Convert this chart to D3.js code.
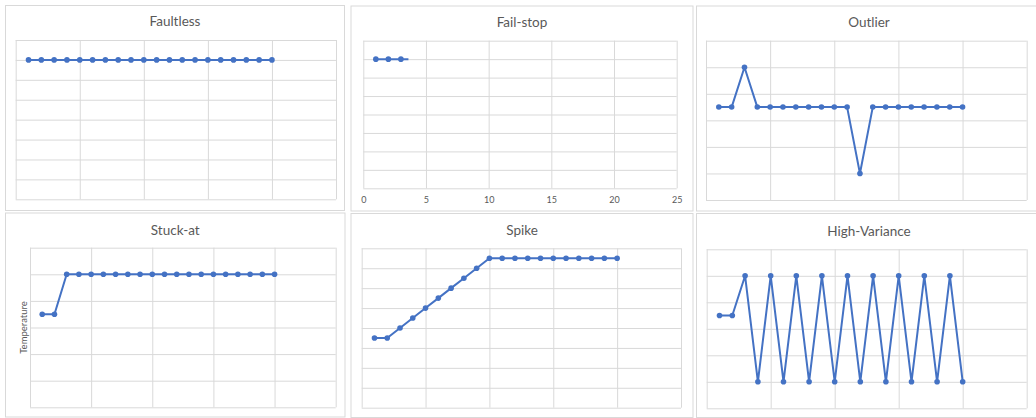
<!DOCTYPE html>
<html>
<head>
<meta charset="utf-8">
<script src="https://cdn.jsdelivr.net/npm/d3@7"></script>
<style>
  html, body { margin: 0; padding: 0; background: #ffffff; }
  svg { display: block; }
  text { font-family: Lato, "Open Sans", "Liberation Sans", sans-serif; fill: #595959; }
</style>
</head>
<body>
<svg id="chart" width="1036" height="418"></svg>
<script>
// Sample index (x) shared by the sensor traces
const sampleIndex = [1, 2, 3, 4, 5, 6, 7, 8, 9, 10, 11, 12, 13, 14, 15, 16, 17, 18, 19, 20];

// Temperature readings per fault type
const faultless = [35, 35, 35, 35, 35, 35, 35, 35, 35, 35, 35, 35, 35, 35, 35, 35, 35, 35, 35, 35];
const failStopIndex = [1, 2, 3, 3.6];
const failStop = [35, 35, 35, 35];
const failStopMarkers = 3;
const outlier = [17.5, 17.5, 25, 17.5, 17.5, 17.5, 17.5, 17.5, 17.5, 17.5, 17.5, 5, 17.5, 17.5, 17.5, 17.5, 17.5, 17.5, 17.5, 17.5];
const stuckAt = [17.5, 17.5, 25, 25, 25, 25, 25, 25, 25, 25, 25, 25, 25, 25, 25, 25, 25, 25, 25, 25];
const spike = [17.5, 17.5, 20, 22.5, 25, 27.5, 30, 32.5, 35, 37.5, 37.5, 37.5, 37.5, 37.5, 37.5, 37.5, 37.5, 37.5, 37.5, 37.5];
const highVariance = [17.5, 17.5, 25, 5, 25, 5, 25, 5, 25, 5, 25, 5, 25, 5, 25, 5, 25, 5, 25, 5];

// Axis ticks
const xTicks = [0, 5, 10, 15, 20, 25];
const yTicksTall = [0, 5, 10, 15, 20, 25, 30, 35, 40];
const yTicksShort = [0, 5, 10, 15, 20, 25, 30];

const titles = ["Faultless", "Fail-stop", "Outlier", "Stuck-at", "Spike", "High-Variance"];
const yAxisTitle = "Temperature";

const LINE = "#4472C4";
const GRID = "#d9d9d9";
const BORDER = "#d9d9d9";

const svg = d3.select("#chart");

// Panel frames and plot areas
const panels = [
  { title: titles[0], frame: [5, 5, 339, 205], plot: [15.7, 40, 336, 199.3], xs: sampleIndex, ys: faultless, yTicks: yTicksTall, titleY: 21 },
  { title: titles[1], frame: [350.5, 5.5, 342, 205], plot: [363.3, 40.7, 676.7, 188.3], xs: failStopIndex, ys: failStop, yTicks: yTicksTall, titleY: 22, markers: failStopMarkers, xLabels: true },
  { title: titles[2], frame: [696, 5.5, 345, 205], plot: [706, 40.7, 1026.7, 200], xs: sampleIndex, ys: outlier, yTicks: yTicksShort, titleY: 22 },
  { title: titles[3], frame: [5, 212.5, 339.5, 204], plot: [30, 247.7, 335.7, 407.3], xs: sampleIndex, ys: stuckAt, yTicks: yTicksShort, titleY: 229.5, yTitle: yAxisTitle },
  { title: titles[4], frame: [350.5, 213, 342, 204], plot: [361.7, 248.3, 681, 407.7], xs: sampleIndex, ys: spike, yTicks: yTicksTall, titleY: 230 },
  { title: titles[5], frame: [696, 213, 345, 204], plot: [706.7, 249.3, 1026.7, 408.3], xs: sampleIndex, ys: highVariance, yTicks: yTicksShort, titleY: 230.5 }
];

panels.forEach(p => {
  const g = svg.append("g");
  const [fx, fy, fw, fh] = p.frame;
  g.append("rect")
    .attr("x", fx + 0.5).attr("y", fy + 0.5)
    .attr("width", fw).attr("height", fh)
    .attr("fill", "#ffffff").attr("stroke", BORDER).attr("stroke-width", 1);

  const [x0, y0, x1, y1] = p.plot;
  const x = d3.scaleLinear().domain([xTicks[0], xTicks[xTicks.length - 1]]).range([x0, x1]);
  const y = d3.scaleLinear().domain([p.yTicks[0], p.yTicks[p.yTicks.length - 1]]).range([y1, y0]);

  // horizontal gridlines
  g.append("g").attr("transform", `translate(${x0},0)`)
    .call(d3.axisLeft(y).tickValues(p.yTicks).tickSize(-(x1 - x0)).tickFormat(""))
    .call(a => a.select(".domain").remove())
    .call(a => a.selectAll("line").attr("stroke", GRID).attr("stroke-width", 1));

  // vertical gridlines, with value labels where the panel shows them
  const xAxis = g.append("g").attr("transform", `translate(0,${y1})`)
    .call(d3.axisBottom(x).tickValues(xTicks).tickSize(-(y1 - y0)).tickPadding(8)
      .tickFormat(p.xLabels ? d3.format("d") : ""))
    .call(a => a.select(".domain").remove())
    .call(a => a.selectAll("line").attr("stroke", GRID).attr("stroke-width", 1));
  xAxis.selectAll("text")
    .style("font-family", "Lato, 'Open Sans', sans-serif")
    .style("font-size", "9px").attr("fill", "#595959");

  // title
  g.append("text")
    .attr("x", (fx + fx + fw) / 2 + 0.5).attr("y", p.titleY)
    .attr("text-anchor", "middle").attr("dominant-baseline", "central")
    .style("font-size", "13.5px")
    .text(p.title);

  if (p.yTitle) {
    g.append("text")
      .attr("transform", `translate(23,${(y0 + y1) / 2}) rotate(-90)`)
      .attr("text-anchor", "middle").attr("dominant-baseline", "central")
      .style("font-size", "9.5px")
      .text(p.yTitle);
  }

  const pts = p.xs.map((v, i) => [v, p.ys[i]]);
  const line = d3.line().x(d => x(d[0])).y(d => y(d[1]));
  g.append("path").datum(pts)
    .attr("d", line)
    .attr("fill", "none").attr("stroke", LINE).attr("stroke-width", 2)
    .attr("stroke-linejoin", "round");

  const markerPts = p.markers ? pts.slice(0, p.markers) : pts;
  g.selectAll("circle.pt").data(markerPts).join("circle")
    .attr("class", "pt")
    .attr("cx", d => x(d[0])).attr("cy", d => y(d[1]))
    .attr("r", 2.8).attr("fill", LINE);
});
</script>
</body>
</html>
